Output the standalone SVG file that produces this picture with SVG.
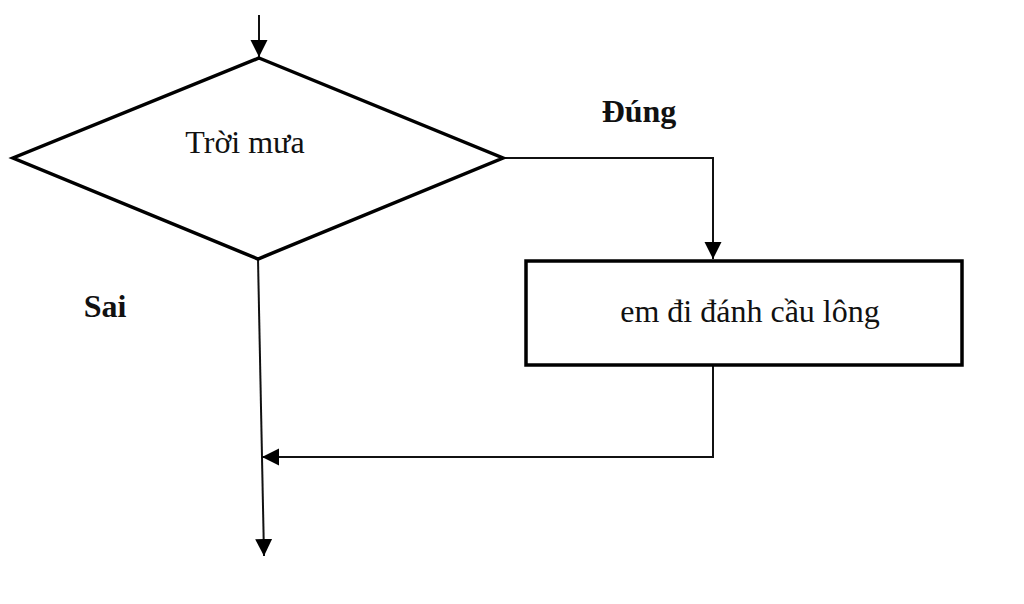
<svg xmlns="http://www.w3.org/2000/svg" width="1024" height="604" viewBox="0 0 1024 604">
<style>
.shape{fill:#fff;stroke:#000;stroke-width:3.5;stroke-linejoin:miter}
.conn{fill:none;stroke:#111;stroke-width:2}
.t{font-family:"Liberation Serif","Times New Roman",serif;font-size:32px;fill:#111}
.b{font-weight:bold}
</style>
<defs>
<marker id="ah" markerWidth="10" markerHeight="10" refX="10" refY="5" orient="auto" markerUnits="userSpaceOnUse" viewBox="0 0 10 10">
<path d="M0,0 L10,5 L0,10 z" fill="#000" transform="scale(1)"/>
</marker>
<marker id="ahb" markerWidth="18" markerHeight="18" refX="17" refY="9" orient="auto" markerUnits="userSpaceOnUse" viewBox="0 0 18 18">
<path d="M0,0.5 L17,9 L0,17.5 z" fill="#000"/>
</marker>
</defs>
<rect width="1024" height="604" fill="#fff"/>
<g id="connectors">
<line class="conn" x1="259" y1="15" x2="259" y2="57" marker-end="url(#ahb)"/>
<polyline class="conn" points="503,158 713,158 713,259" marker-end="url(#ahb)"/>
<line class="conn" x1="258" y1="259" x2="264" y2="556" marker-end="url(#ahb)"/>
<polyline class="conn" points="713,366 713,457 262,457" marker-end="url(#ahb)"/>
</g>
<g id="decision">
<polygon class="shape" points="259,58 503,158 258,259 13,158"/>
<text class="t" x="245" y="153" text-anchor="middle">Trời mưa</text>
</g>
<g id="action">
<rect class="shape" x="526" y="261" width="436" height="104"/>
<text class="t" x="750" y="322" text-anchor="middle">em đi đánh cầu lông</text>
</g>
<g id="label-dung">
<text class="t b" x="639" y="122" text-anchor="middle">Đúng</text>
</g>
<g id="label-sai">
<text class="t b" x="105" y="317" text-anchor="middle">Sai</text>
</g>
</svg>
